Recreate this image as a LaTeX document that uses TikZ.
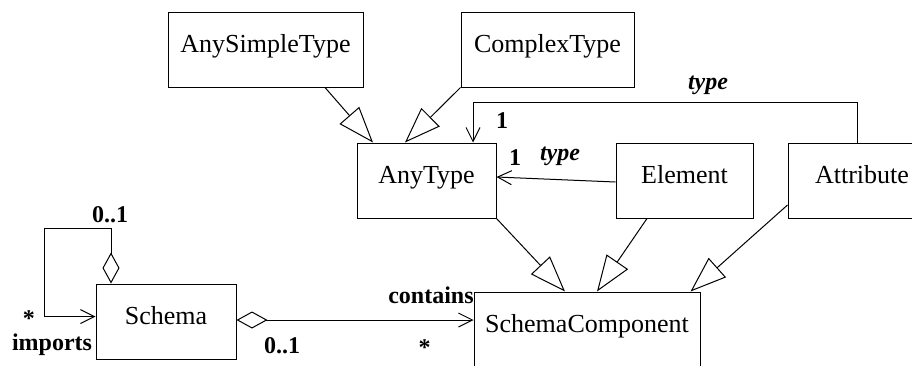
\documentclass[tikz,border=0pt]{standalone}
\usepackage{fontspec}
\setmainfont{Liberation Serif}
\usetikzlibrary{arrows.meta}

\begin{document}
\begin{tikzpicture}[x=1pt,y=-1pt,line width=1pt,
  cls/.style={draw,minimum height=75pt,inner sep=0pt,text height=17pt,text depth=12pt,font=\fontsize{26}{30}\selectfont},
  lbl/.style={inner sep=0pt,anchor=base,font=\fontsize{24}{28}\selectfont\bfseries},
  role/.style={lbl,font=\fontsize{24}{28}\selectfont\bfseries\itshape},
  isa/.style={-{Triangle[open,length=36pt,width=26pt]}},
  nav/.style={-{Straight Barb[length=14pt,width=14pt]}},
  agg/.style={{Diamond[open,length=31pt,width=17pt]}-{Straight Barb[length=14pt,width=14pt]}}]
\useasboundingbox (0,0) rectangle (912,365);

% classes
\node [cls,minimum width=195pt] (simple) at (265.5,49.5) {AnySimpleType};
\node [cls,minimum width=173pt] (complex) at (547.5,49.5) {ComplexType};
\node [cls,minimum width=139pt] (anytype) at (426.5,180.5) {AnyType};
\node [cls,minimum width=137pt] (element) at (684.5,180.5) {Element};
\node [cls,minimum width=148pt] (attribute) at (862,180.5) {Attribute};
\node [cls,minimum width=140pt] (schema) at (166,321.5) {Schema};
\node [cls,minimum width=226pt] (component) at (587,329.5) {SchemaComponent};

% generalizations
\draw [isa] ([xshift=59.5pt]simple.south) -- ([xshift=-53.5pt]anytype.north);
\draw [isa] (complex.south west) -- ([xshift=-21.5pt]anytype.north);
\draw [isa] (anytype.south east) -- ([xshift=-22pt]component.north);
\draw [isa] ([xshift=-37.5pt]element.south) -- ([xshift=10pt]component.north);
\draw [isa] ([yshift=-24.5pt]attribute.west) -- ([xshift=-10pt]component.north east);

% associations
\coordinate (typetop) at (857,102);
\draw [nav] (attribute.north -| typetop) -- (typetop) -| ([xshift=46.5pt]anytype.north);
\draw [nav] ([yshift=-1.5pt]element.west) -- ([yshift=3.5pt]anytype.east);
\coordinate (loop) at (44,228);
\draw [agg] ([xshift=-55pt]schema.north) |- (loop) |- ([yshift=5pt]schema.west);
\draw [agg] ([yshift=1.5pt]schema.east) -- ([yshift=9.5pt]component.west);

% labels
\node [role] (typeA) at (708,89) {type};
\node [lbl] (typemult) at (502,128) {1};
\node [role] (typeE) at (560,160) {type};
\node [lbl] (elemmult) at (515,165) {1};
\node [lbl] (upmult) at (110,222) {0..1};
\node [lbl] (loopmult) at (29,326) {*};
\node [lbl] (imports) at (52,350) {imports};
\node [lbl] (aggmult) at (282,353) {0..1};
\node [lbl] (contains) at (431,303) {contains};
\node [lbl] (compmult) at (424.5,355) {*};

\end{tikzpicture}
\end{document}
